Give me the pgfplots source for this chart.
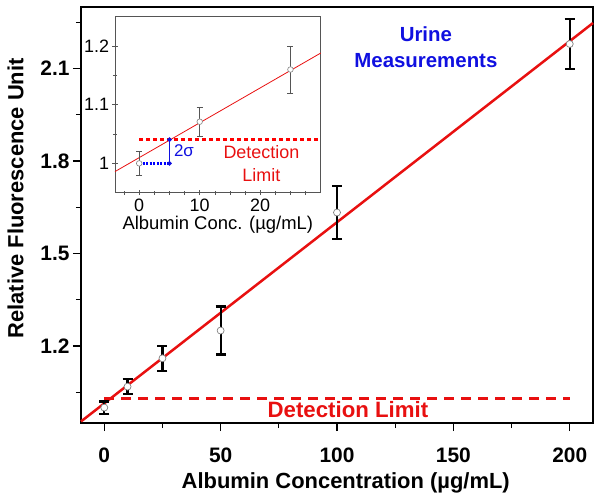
\documentclass[border=0pt]{standalone}
\usepackage{fontspec}
\setmainfont{Liberation Sans}
\usepackage{pgfplots}
\pgfplotsset{compat=1.18}
\definecolor{fgray}{HTML}{555555}
\definecolor{mblue}{HTML}{1010E0}
\definecolor{mred}{HTML}{E81010}
\definecolor{lred}{HTML}{F04848}
\definecolor{lblue}{HTML}{3050F0}
\begin{document}
\begin{tikzpicture}
\useasboundingbox (-81bp,-77bp) rectangle (521bp,423bp);
\begin{axis}[
  at={(34bp,230.3bp)}, anchor=south west,
  scale only axis, width=205.7bp, height=176bp,
  xmin=-4, xmax=30, ymin=0.95, ymax=1.25,
  xtick={0,10,20}, ytick={1,1.1,1.2},
  minor xtick={-2.5,2.5,5,7.5,12.5,15,17.5,22.5,25,27.5},
  minor ytick={1.05,1.15},
  xtick pos=bottom, ytick pos=left, tick align=center,
  major tick length=5bp, minor tick length=4bp,
  tick style={fgray, line width=0.6bp},
  axis line style={fgray, line width=0.9bp},
  /pgf/number format/assume math mode=true,
  ticklabel style={font=\fontsize{18}{21}\selectfont},
  xlabel={Albumin Conc. (µg/mL)},
  label style={font=\fontsize{18.5}{21}\selectfont},
  xlabel style={at={(rel axis cs:0.5,0)}, anchor=base, yshift=-37.3bp},
  clip=false,
]
\addplot[color=mred, line width=0.8bp] coordinates {(-4,0.986) (30,1.188)};
\addplot[color=red, line width=3bp, dash pattern=on 4bp off 3bp] coordinates {(0,1.0405) (30,1.0405)};
\addplot[color=blue, line width=3bp, dash pattern=on 2bp off 1.5bp] coordinates {(0,1.0) (5,1.0)};
\addplot[color=mblue, line width=1.6bp, mark=*, mark size=1.4bp, mark options={fill=mblue, draw=mblue}] coordinates {(5,1.0) (5,1.0405)};
\addplot[only marks, mark=*, mark size=2.8bp,
  mark options={fill=white, draw=gray, line width=0.6bp},
  error bars/.cd, y dir=both, y explicit,
  error bar style={fgray, line width=0.8bp},
  error mark options={rotate=90, mark size=3bp, fgray, line width=0.8bp}]
  table[x=x, y=y, y error=e] {
x y e
0 1.000 0.020
10 1.071 0.025
25 1.160 0.040
};
\node[mblue, font=\fontsize{17}{20}\selectfont] at (axis cs:7.4,1.0217) {2σ};
\node[mred, font=\fontsize{18}{23}\selectfont, align=center] at (axis cs:20.2,0.999) {Detection\\Limit};
\end{axis}
\begin{axis}[
  at={(0,0)}, anchor=south west,
  scale only axis, width=512bp, height=416bp,
  xmin=-10, xmax=210, ymin=0.95, ymax=2.3,
  xtick={0,50,100,150,200}, ytick={1.2,1.5,1.8,2.1},
  minor xtick={25,75,125,175}, minor ytick={1.05,1.35,1.65,1.95,2.25},
  xtick pos=bottom, ytick pos=left, tick align=outside,
  major tick length=8bp, minor tick length=5bp,
  tick style={black, line width=1.3bp},
  axis line style={black, line width=1.5bp},
  /pgf/number format/assume math mode=true,
  ticklabel style={font=\fontsize{21}{24}\selectfont\bfseries},
  xticklabel style={yshift=-13bp},
  xlabel={Albumin Concentration (µg/mL)},
  ylabel={Relative Fluorescence Unit},
  label style={font=\fontsize{22}{26}\selectfont\bfseries},
  xlabel style={at={(rel axis cs:0.517,0)}, anchor=base, yshift=-65.3bp},
  ylabel style={at={(rel axis cs:0,0.54)}, anchor=center, yshift=65.5bp},
  clip=false,
]
\addplot[mred, line width=2.5bp] coordinates {(-10,0.955) (210,2.248)};
\addplot[mred, line width=2.5bp, dash pattern=on 10bp off 7bp] coordinates {(0,1.029) (200,1.029)};
\addplot[only marks, mark=*, mark size=3.5bp,
  mark options={fill=white, draw=gray, line width=0.7bp},
  error bars/.cd, y dir=both, y explicit,
  error bar style={black, line width=2.2bp},
  error mark options={rotate=90, mark size=5bp, black, line width=2.2bp}]
  table[x=x, y=y, y error=e] {
x y e
0 1.000 0.020
10 1.068 0.025
25 1.160 0.040
50 1.250 0.078
100 1.633 0.085
200 2.180 0.080
};
\node[mblue, font=\fontsize{20.5}{26.5}\selectfont\bfseries, align=center] at (axis cs:138.2,2.170) {Urine\\Measurements};
\node[mred, font=\fontsize{22.3}{26}\selectfont\bfseries] at (axis cs:104.7,0.9945) {Detection Limit};
\end{axis}
\end{tikzpicture}
\end{document}
